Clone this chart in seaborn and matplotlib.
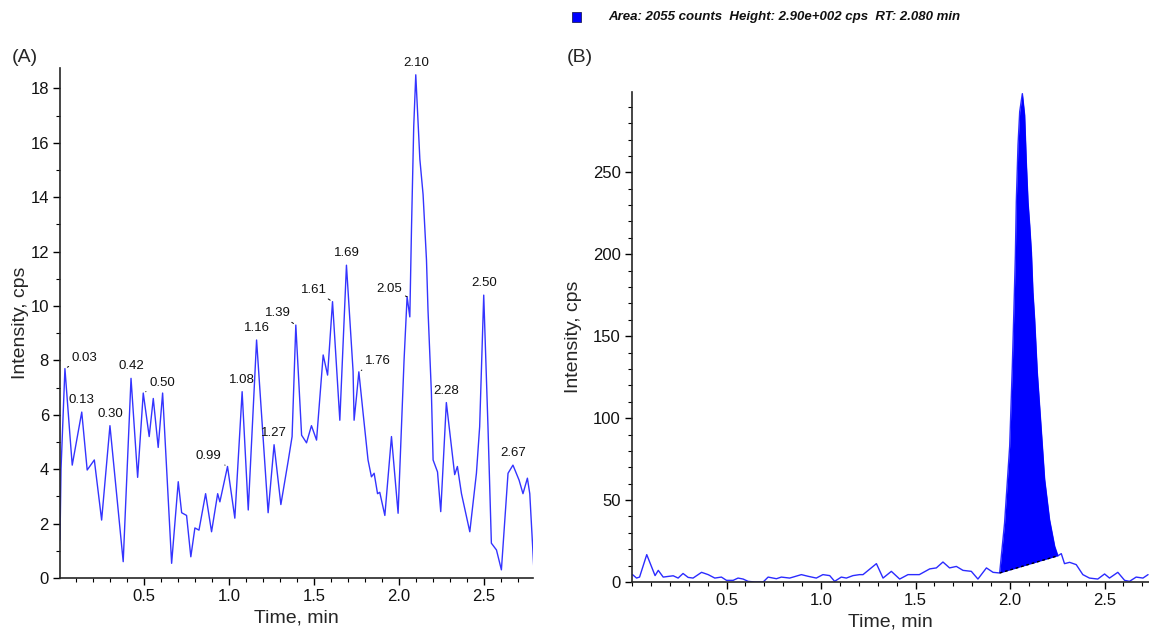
import numpy as np
import pandas as pd
import seaborn as sns
import matplotlib.pyplot as plt
from matplotlib.patches import Rectangle
from matplotlib.ticker import MultipleLocator

# panel (A): blank / low level chromatogram, time in min and intensity in cps
time_a = [0.006, 0.012, 0.035, 0.065, 0.078, 0.134, 0.166, 0.208, 0.251, 0.30,
          0.378, 0.424, 0.463, 0.496, 0.531, 0.555, 0.584, 0.61, 0.663, 0.702,
          0.722, 0.751, 0.776, 0.80, 0.824, 0.863, 0.898, 0.934, 0.947, 0.992,
          1.035, 1.078, 1.114, 1.163, 1.231, 1.266, 1.306, 1.349, 1.372, 1.394,
          1.428, 1.457, 1.486, 1.516, 1.555, 1.581, 1.61, 1.653, 1.692, 1.731,
          1.737, 1.751, 1.765, 1.79, 1.819, 1.839, 1.855, 1.875, 1.888, 1.918,
          1.957, 1.996, 2.031, 2.049, 2.065, 2.075, 2.088, 2.10, 2.124, 2.143,
          2.163, 2.172, 2.192, 2.202, 2.228, 2.247, 2.28, 2.329, 2.345, 2.369,
          2.418, 2.457, 2.476, 2.50, 2.525, 2.545, 2.575, 2.604, 2.643, 2.672,
          2.708, 2.731, 2.757, 2.771, 2.796]
intensity_a = [1.4, 4.0, 7.7, 5.2, 4.15, 6.1, 3.97, 4.34, 2.13, 5.6,
               0.6, 7.34, 3.7, 6.8, 5.2, 6.6, 4.8, 6.8, 0.54, 3.54,
               2.4, 2.3, 0.78, 1.84, 1.76, 3.1, 1.7, 3.1, 2.8, 4.1,
               2.2, 6.85, 2.5, 8.75, 2.4, 4.9, 2.7, 4.3, 5.2, 9.3,
               5.25, 4.97, 5.6, 5.07, 8.2, 7.46, 10.16, 5.8, 11.5, 7.6,
               5.8, 6.66, 7.58, 6.06, 4.34, 3.72, 3.85, 3.1, 3.15, 2.3,
               5.2, 2.38, 8.0, 10.34, 9.6, 12.9, 16.6, 18.5, 15.4, 14.1,
               11.7, 9.85, 6.8, 4.34, 3.9, 2.44, 6.45, 3.8, 4.1, 3.1,
               1.7, 3.85, 5.56, 10.4, 5.56, 1.28, 1.03, 0.3, 3.85, 4.15,
               3.6, 3.1, 3.67, 3.1, 0.23]
peak_labels_a = ['0.03', '0.13', '0.30', '0.42', '0.50', '0.99', '1.08', '1.16', '1.27',
                 '1.39', '1.61', '1.69', '1.76', '2.05', '2.10', '2.28', '2.50', '2.67']

# panel (B): analyte chromatogram with integrated peak
time_b = [0.003, 0.024, 0.04, 0.078, 0.122, 0.139, 0.165, 0.218, 0.244, 0.27,
          0.297, 0.323, 0.368, 0.403, 0.438, 0.473, 0.5, 0.535, 0.561, 0.588,
          0.614, 0.65, 0.694, 0.72, 0.764, 0.79, 0.834, 0.852, 0.896, 0.931,
          0.975, 1.01, 1.046, 1.072, 1.107, 1.134, 1.169, 1.204, 1.222, 1.293,
          1.328, 1.372, 1.416, 1.46, 1.52, 1.575, 1.61, 1.645, 1.68, 1.716,
          1.751, 1.795, 1.83, 1.875, 1.91, 1.945, 1.971, 1.998, 2.012, 2.02,
          2.028, 2.033, 2.042, 2.051, 2.065, 2.077, 2.086, 2.095, 2.104, 2.113,
          2.121, 2.13, 2.144, 2.165, 2.183, 2.209, 2.236, 2.253, 2.271, 2.288,
          2.315, 2.35, 2.385, 2.42, 2.464, 2.5, 2.526, 2.57, 2.606, 2.632,
          2.667, 2.703, 2.73]
intensity_b = [4.5, 2.4, 3.0, 16.7, 3.9, 7.1, 3.0, 3.8, 2.4, 5.2,
               2.8, 2.4, 5.9, 4.5, 2.4, 3.0, 1.0, 1.0, 2.4, 1.8,
               0.4, 0.0, 0.0, 3.0, 2.0, 3.0, 2.4, 3.0, 4.5, 3.5,
               2.4, 4.5, 3.9, 0.4, 3.0, 2.4, 3.9, 4.5, 4.5, 11.2,
               2.4, 6.5, 1.8, 4.5, 4.5, 8.0, 8.6, 12.2, 8.6, 9.5,
               7.1, 6.5, 1.8, 8.6, 5.9, 5.5, 36.0, 83.0, 132.0, 164.6,
               199.0, 232.0, 266.6, 287.0, 298.0, 285.0, 256.0, 232.0, 217.6, 201.0,
               177.0, 160.5, 128.0, 93.0, 62.6, 38.0, 21.8, 16.0, 17.3, 11.2,
               12.0, 10.6, 4.5, 2.4, 1.8, 4.9, 2.4, 5.9, 1.0, 0.4,
               3.0, 2.4, 4.5]
peak_start_b = 1.945
peak_end_b = 2.253
header_text = 'Area: 2055 counts  Height: 2.90e+002 cps  RT: 2.080 min'

df_a = pd.DataFrame({'time': time_a, 'intensity': intensity_a})
df_b = pd.DataFrame({'time': time_b, 'intensity': intensity_b})

sns.set_style('ticks')
plt.rcParams['font.family'] = ['Liberation Sans', 'DejaVu Sans']

W, H = 1149, 633
fig = plt.figure(figsize=(W / 100, H / 100), dpi=100)

def px_axes(left, top, right, bottom):
    return fig.add_axes([left / W, 1 - bottom / H, (right - left) / W, (bottom - top) / H])

ax_a = px_axes(60, 68, 533, 578)
ax_b = px_axes(632, 92, 1149, 582)

line_a = '#3434ff'
line_b = '#2b2bff'

sns.lineplot(data=df_a, x='time', y='intensity', ax=ax_a, color=line_a, lw=1.0,
             sort=False, estimator=None)
sns.lineplot(data=df_b, x='time', y='intensity', ax=ax_b, color=line_b, lw=1.0,
             sort=False, estimator=None)

# integrated peak in (B): fill between trace and the straight baseline
pk = df_b[(df_b.time >= peak_start_b) & (df_b.time <= peak_end_b)]
v0 = pk.intensity.iloc[0]
v1 = pk.intensity.iloc[-1]
base = np.interp(pk.time, [peak_start_b, peak_end_b], [v0, v1])
ax_b.fill_between(pk.time, base, pk.intensity, color='#0000ff', lw=0, zorder=3)
ax_b.plot([peak_start_b, peak_end_b], [v0, v1], color='black', lw=1.0,
          ls=(0, (2, 2)), zorder=4)

# axis cosmetics
for ax in (ax_a, ax_b):
    sns.despine(ax=ax)
    ax.spines['left'].set_linewidth(1.2)
    ax.spines['bottom'].set_linewidth(1.2)
    ax.xaxis.set_major_locator(MultipleLocator(0.5))
    ax.xaxis.set_minor_locator(MultipleLocator(0.1))
    ax.tick_params(which='major', direction='out', length=5, width=1, labelsize=12,
                   color='black', labelcolor='#111111', pad=3)
    ax.tick_params(which='minor', direction='out', length=3, width=0.8, color='black')
    ax.set_xlabel('Time, min', fontsize=14, labelpad=4)
    ax.set_ylabel('Intensity, cps', fontsize=14)

ax_a.set_xlim(0.006, 2.79)
ax_a.set_ylim(0, 18.75)
ax_a.set_xticks([0.5, 1.0, 1.5, 2.0, 2.5])
ax_a.set_yticks(np.arange(0, 19, 2))
ax_a.yaxis.set_minor_locator(MultipleLocator(1))
ax_a.yaxis.labelpad = 1

ax_b.set_xlim(0, 2.735)
ax_b.set_ylim(0, 299)
ax_b.set_xticks([0.5, 1.0, 1.5, 2.0, 2.5])
ax_b.set_yticks(np.arange(0, 251, 50))
ax_b.yaxis.set_minor_locator(MultipleLocator(10))
ax_b.yaxis.labelpad = 8

# peak labels on (A)
label_style = {
    '0.03': ('left', 7, 11), '0.50': ('left', 6, 10), '1.76': ('left', 6, 11),
    '0.99': ('right', -6, 10), '1.39': ('right', -5, 12), '1.61': ('right', -6, 12),
    '2.05': ('right', -5, 8),
}
for lab in peak_labels_a:
    t0 = float(lab)
    win = df_a[(df_a.time - t0).abs() <= 0.02]
    row = win.loc[win.intensity.idxmax()]
    ha, dx, dy = label_style.get(lab, ('center', 0, 12))
    arrow = None
    if ha != 'center':
        arrow = dict(arrowstyle='-', color='black', lw=0.7, shrinkA=0, shrinkB=2)
    ax_a.annotate(lab, xy=(row.time, row.intensity), xytext=(dx, dy),
                  textcoords='offset pixels', ha=ha, va='center', fontsize=9.5,
                  color='#111111', arrowprops=arrow)

fig.text(12 / W, 1 - 57 / H, '(A)', fontsize=14, va='center', ha='left')
fig.text(567 / W, 1 - 58 / H, '(B)', fontsize=14, va='center', ha='left')

# integration result header
fig.add_artist(Rectangle((572 / W, 1 - 22 / H), 9 / W, 10 / H, transform=fig.transFigure,
                         facecolor='#0000ff', edgecolor='#202060', lw=0.6))
fig.text(608 / W, 1 - 17 / H, header_text, fontsize=9.5, fontweight='bold',
         fontstyle='italic', va='center', ha='left', color='#111111')

fig.savefig('out.png', dpi=100)
